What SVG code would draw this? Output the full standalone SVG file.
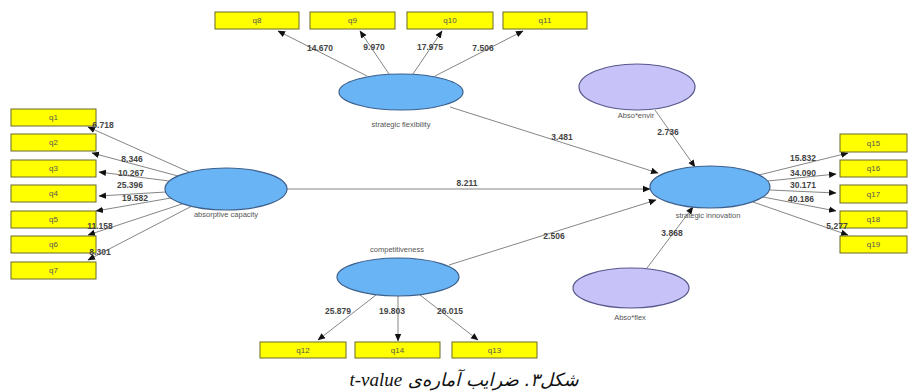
<svg xmlns="http://www.w3.org/2000/svg" width="912" height="392" viewBox="0 0 912 392">
<defs>
<marker id="ah" markerUnits="userSpaceOnUse" markerWidth="8" markerHeight="8" viewBox="0 0 8 8" refX="7" refY="4" orient="auto">
<path d="M0,0.8 L7.5,4 L0,7.2 Z" fill="#111"/>
</marker>
<style>
.bx{fill:#ffff00;stroke:#6b6b2a;stroke-width:1}
.bt{font-family:"Liberation Sans",Arial,sans-serif;font-size:8px;fill:#555;text-anchor:middle}
.lv{fill:#68b4f4;stroke:#3d5f8c;stroke-width:1.2}
.mo{fill:#c7c2f7;stroke:#55588a;stroke-width:1.2}
.et{font-family:"Liberation Sans",Arial,sans-serif;font-size:7.5px;fill:#555;text-anchor:middle}
.ln{stroke:#858585;stroke-width:1;fill:none;marker-end:url(#ah)}
.lb{font-family:"Liberation Sans",Arial,sans-serif;font-size:8.5px;font-weight:bold;fill:#444;text-anchor:middle}
.cap{font-family:"DejaVu Sans","Noto Sans",serif;font-size:18px;font-style:italic;fill:#111}
.capl{font-family:"Liberation Serif","DejaVu Serif",serif;font-style:italic;font-size:19px}
</style>
</defs>
<rect width="912" height="392" fill="#fff"/>
<g id="connectors">
<line class="ln" x1="189" y1="172" x2="88" y2="127"/>
<line class="ln" x1="178" y1="176" x2="92" y2="153"/>
<line class="ln" x1="169" y1="181" x2="99" y2="172"/>
<line class="ln" x1="166" y1="192" x2="99" y2="196"/>
<line class="ln" x1="171" y1="198" x2="96" y2="211"/>
<line class="ln" x1="182" y1="204" x2="88" y2="235"/>
<line class="ln" x1="192" y1="206" x2="88" y2="260"/>
<line class="ln" x1="367" y1="76" x2="278" y2="31"/>
<line class="ln" x1="389" y1="74" x2="360" y2="31"/>
<line class="ln" x1="413" y1="74" x2="442" y2="31"/>
<line class="ln" x1="435" y1="76" x2="523" y2="31"/>
<line class="ln" x1="376" y1="295" x2="318" y2="340"/>
<line class="ln" x1="398" y1="296" x2="398" y2="341"/>
<line class="ln" x1="420" y1="295" x2="478" y2="340"/>
<line class="ln" x1="759" y1="175" x2="848" y2="153"/>
<line class="ln" x1="768" y1="181" x2="836" y2="174"/>
<line class="ln" x1="770" y1="190" x2="836" y2="193"/>
<line class="ln" x1="763" y1="197" x2="836" y2="211"/>
<line class="ln" x1="753" y1="202" x2="848" y2="235"/>
<line class="ln" x1="287" y1="189" x2="650" y2="189"/>
<line class="ln" x1="450" y1="107" x2="658" y2="173"/>
<line class="ln" x1="449" y1="265" x2="656" y2="200"/>
<line class="ln" x1="655" y1="110" x2="695" y2="167"/>
<line class="ln" x1="647" y1="268" x2="693" y2="207"/>
</g>
<g id="q1"><rect class="bx" x="11" y="109" width="85" height="17"/><text class="bt" x="53.5" y="120">q1</text></g>
<g id="q2"><rect class="bx" x="11" y="134" width="85" height="17"/><text class="bt" x="53.5" y="145">q2</text></g>
<g id="q3"><rect class="bx" x="11" y="160" width="85" height="17"/><text class="bt" x="53.5" y="171">q3</text></g>
<g id="q4"><rect class="bx" x="11" y="185" width="85" height="17"/><text class="bt" x="53.5" y="196">q4</text></g>
<g id="q5"><rect class="bx" x="11" y="211" width="85" height="17"/><text class="bt" x="53.5" y="222">q5</text></g>
<g id="q6"><rect class="bx" x="11" y="236" width="85" height="17"/><text class="bt" x="53.5" y="247">q6</text></g>
<g id="q7"><rect class="bx" x="11" y="262" width="85" height="17"/><text class="bt" x="53.5" y="273">q7</text></g>
<g id="q8"><rect class="bx" x="215" y="12" width="84" height="17"/><text class="bt" x="257" y="23">q8</text></g>
<g id="q9"><rect class="bx" x="310" y="12" width="85" height="17"/><text class="bt" x="352.5" y="23">q9</text></g>
<g id="q10"><rect class="bx" x="407" y="12" width="86" height="17"/><text class="bt" x="450" y="23">q10</text></g>
<g id="q11"><rect class="bx" x="503" y="12" width="84" height="17"/><text class="bt" x="545" y="23">q11</text></g>
<g id="q12"><rect class="bx" x="260" y="342" width="86" height="16"/><text class="bt" x="303" y="353">q12</text></g>
<g id="q14"><rect class="bx" x="355" y="342" width="85" height="16"/><text class="bt" x="397.5" y="353">q14</text></g>
<g id="q13"><rect class="bx" x="452" y="342" width="85" height="16"/><text class="bt" x="494.5" y="353">q13</text></g>
<g id="q15"><rect class="bx" x="840" y="134" width="67" height="18"/><text class="bt" x="873.5" y="146">q15</text></g>
<g id="q16"><rect class="bx" x="840" y="160" width="67" height="17"/><text class="bt" x="873.5" y="171">q16</text></g>
<g id="q17"><rect class="bx" x="840" y="185" width="67" height="18"/><text class="bt" x="873.5" y="197">q17</text></g>
<g id="q18"><rect class="bx" x="840" y="211" width="67" height="17"/><text class="bt" x="873.5" y="222">q18</text></g>
<g id="q19"><rect class="bx" x="840" y="236" width="67" height="17"/><text class="bt" x="873.5" y="247">q19</text></g>
<g id="absorptive-capacity"><ellipse class="lv" cx="226" cy="189" rx="61" ry="21"/><text class="et" x="226" y="217">absorptive capacity</text></g>
<g id="strategic-flexibility"><ellipse class="lv" cx="401" cy="92" rx="62" ry="18"/><text class="et" x="401" y="127">strategic flexibility</text></g>
<g id="competitiveness"><ellipse class="lv" cx="398" cy="277" rx="61" ry="19"/><text class="et" x="397" y="252">competitiveness</text></g>
<g id="strategic-innovation"><ellipse class="lv" cx="710" cy="187" rx="60" ry="21"/><text class="et" x="708" y="218">strategic innovation</text></g>
<g id="abso-envir"><ellipse class="mo" cx="637" cy="87" rx="58" ry="23"/><text class="et" x="636" y="118">Abso*envir</text></g>
<g id="abso-flex"><ellipse class="mo" cx="631" cy="288" rx="58" ry="20"/><text class="et" x="630" y="320">Abso*flex</text></g>
<g id="connector-labels">
<text class="lb" x="103" y="128">6.718</text>
<text class="lb" x="132" y="162">8.346</text>
<text class="lb" x="131" y="176">10.267</text>
<text class="lb" x="130" y="188">25.396</text>
<text class="lb" x="135" y="201">19.582</text>
<text class="lb" x="100" y="229">11.158</text>
<text class="lb" x="100" y="255">8.301</text>
<text class="lb" x="320" y="51">14.670</text>
<text class="lb" x="374" y="50">9.970</text>
<text class="lb" x="430" y="50">17.975</text>
<text class="lb" x="483" y="51">7.506</text>
<text class="lb" x="338" y="314">25.879</text>
<text class="lb" x="392" y="314">19.803</text>
<text class="lb" x="450" y="314">26.015</text>
<text class="lb" x="803" y="161">15.832</text>
<text class="lb" x="803" y="176">34.090</text>
<text class="lb" x="803" y="188">30.171</text>
<text class="lb" x="801" y="202">40.186</text>
<text class="lb" x="837" y="229">5.277</text>
<text class="lb" x="467" y="186">8.211</text>
<text class="lb" x="562" y="140">3.481</text>
<text class="lb" x="554" y="239">2.506</text>
<text class="lb" x="668" y="135">2.736</text>
<text class="lb" x="672" y="236">3.868</text>
</g>
<text class="cap" x="464" y="386" text-anchor="middle" direction="rtl">شکل۳. ضرایب آماره‌ی <tspan class="capl">t-value</tspan></text>
</svg>
